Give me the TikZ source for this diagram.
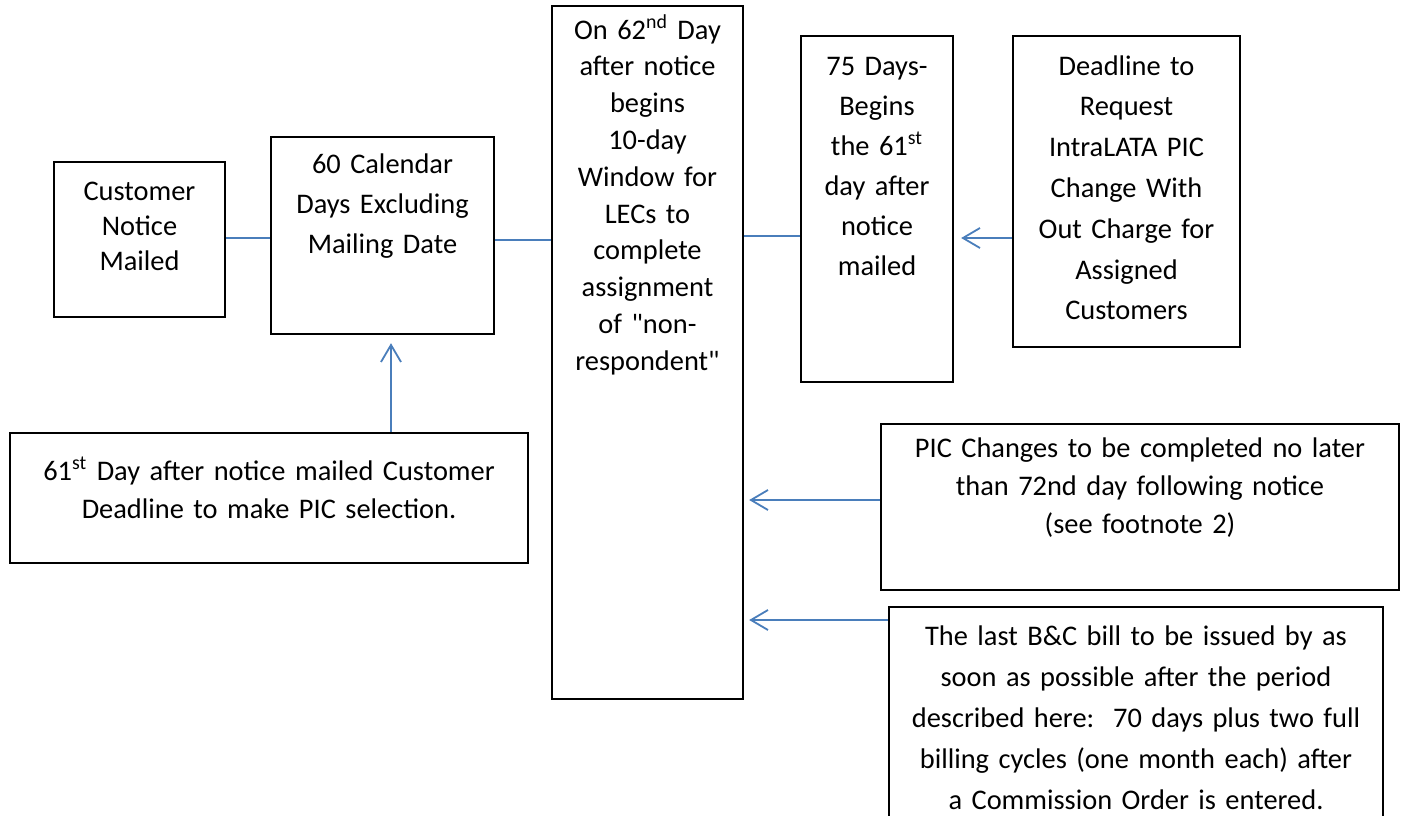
\documentclass[tikz,border=0pt]{standalone}
\usepackage{fontspec}
\setmainfont{Carlito}[Ligatures=TeXOff]
\usetikzlibrary{arrows.meta,fit,calc}
\definecolor{linkblue}{HTML}{4A7EBB}

\begin{document}
\begin{tikzpicture}[x=0.5pt,y=-0.5pt,
  box/.style={draw=black, line width=1.2pt, inner sep=0pt, rectangle},
  txt/.style={anchor=base, inner sep=0pt, text width=260pt, align=center,
    font=\fontsize{14.2pt}{#1}\selectfont},
  conn/.style={draw=linkblue, line width=0.9pt},
  arr/.style={-{Straight Barb[length=8.5pt,width=10pt]}}]

\useasboundingbox (0,0) rectangle (1404,815);
\clip (0,0) rectangle (1404,815);
\fill[white] (0,0) rectangle (1404,815);

% boxes of the timeline
\node[box, fit={(54,162) (225,317)}]   (cust) {};
\node[box, fit={(271,137) (494,334)}]  (cal)  {};
\node[box, fit={(552,6) (743,699)}]    (w62)  {};
\node[box, fit={(801,36) (953,382)}]   (d75)  {};
\node[box, fit={(1013,36) (1240,347)}] (dl)   {};
\node[box, fit={(10,433) (528,563)}]   (s61)  {};
\node[box, fit={(881,424) (1399,590)}] (pic)  {};
\node[box, fit={(889,607) (1383,840)}] (bc)   {};

% box texts
\node[txt=17.5pt] (custT) at (139.5,200) {Customer\\Notice\\Mailed};
\node[txt=20pt]   (calT)  at (382.5,173) {60 Calendar\\Days Excluding\\Mailing Date};
\node[txt=18.4pt] (w62T)  at (647.5,39)  {On 62\textsuperscript{nd} Day\\after notice\\begins\\10-day\\Window for\\LECs to\\complete\\assignment\\of "non-\\respondent"};
\node[txt=20pt]   (d75T)  at (877,75)    {75 Days-\\Begins\\the 61\textsuperscript{st}\\day after\\notice\\mailed};
\node[txt=20.4pt] (dlT)   at (1126.5,75) {Deadline to\\Request\\IntraLATA PIC\\Change With\\Out Charge for\\Assigned\\Customers};
\node[txt=19pt]   (s61T)  at (269,480)   {61\textsuperscript{st} Day after notice mailed Customer\\Deadline to make PIC selection.};
\node[txt=19pt]   (picT)  at (1140,457)  {PIC Changes to be completed no later\\than 72nd day following notice\\(see footnote 2)};
\node[txt=20.5pt] (bcT)   at (1136,645)  {The last B\&C bill to be issued by as\\soon as possible after the period\\described here:\ \ 70 days plus two full\\billing cycles (one month each) after\\a Commission Order is entered.};

% plain links between consecutive boxes
\draw[conn] (cust.east |- 0,238) -- (cal.west |- 0,238);
\draw[conn] (cal.east |- 0,240) -- (w62.west |- 0,240);
\draw[conn] (w62.east |- 0,236) -- (d75.west |- 0,236);

% arrows
\draw[conn,arr] (dl.west |- 0,238) -- ($(d75.east |- 0,238)+(7,0)$);
\draw[conn,arr] (s61.north -| 391,0) -- ($(cal.south -| 391,0)+(0,8)$);
\draw[conn,arr] (pic.west |- 0,500) -- ($(w62.east |- 0,500)+(5,0)$);
\draw[conn,arr] (bc.west |- 0,620) -- ($(w62.east |- 0,620)+(5,0)$);
\end{tikzpicture}
\end{document}
